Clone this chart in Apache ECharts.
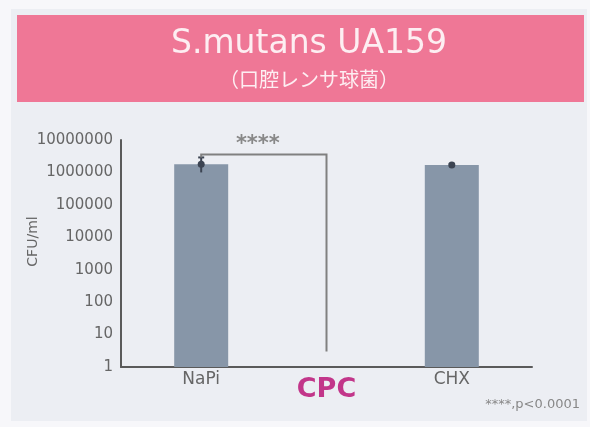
<!DOCTYPE html>
<html>
<head>
<meta charset="utf-8">
<script src="https://cdn.jsdelivr.net/npm/echarts@6/dist/echarts.min.js"></script>
<style>
  html, body { margin: 0; padding: 0; background: #f7f7fa; }
  #chart { width: 590px; height: 427px; }
</style>
</head>
<body>
<div id="chart"></div>
<script>
// 群（x 位置と名前）
const groupPos = [1, 2, 3];
const groupNames = ['NaPi', 'CPC', 'CHX'];
// 平均値 CFU/ml（CPC は検出限界以下）
const meanValues = [1.8e6, null, 1.7e6];
// エラーバー（下限・上限）
const errLow = [1.0e6, null, 1.55e6];
const errHigh = [2.9e6, null, 1.85e6];
// 有意差ブラケット
const bracketX = [1, 2];
const bracketTop = 3.6e6;
const bracketEnds = [2.9e6, 3];
const bracketMark = '****';
// y 軸目盛
const yTicks = [1, 10, 100, 1000, 10000, 100000, 1000000, 10000000];

const chart = echarts.init(document.getElementById('chart'));

const barData = [];
const errData = [];
for (let i = 0; i < groupPos.length; i++) {
  if (meanValues[i] != null) {
    barData.push([groupPos[i], meanValues[i]]);
    errData.push([groupPos[i], errLow[i], errHigh[i], meanValues[i]]);
  }
}

const option = {
  backgroundColor: '#f7f7fa',
  animation: false,
  graphic: [
    { type: 'rect', z: -10, shape: { x: 11, y: 9, width: 576, height: 412 },
      style: { fill: '#eceef3' } },
    { type: 'rect', z: -5, shape: { x: 17, y: 15, width: 567, height: 87 },
      style: { fill: '#ef7796' } },
    { type: 'text', x: 580, y: 405,
      style: { text: bracketMark + ',p<0.0001', fontSize: 13, fill: '#888',
        align: 'right', verticalAlign: 'middle', fontFamily: '"DejaVu Sans", sans-serif' } }
  ],
  title: {
    text: 'S.mutans UA159',
    subtext: '（口腔レンサ球菌）',
    left: 304,
    textAlign: 'center',
    top: 23,
    itemGap: 8,
    textStyle: { color: '#fdeef2', fontSize: 33, fontWeight: 'normal',
      fontFamily: '"DejaVu Sans", sans-serif' },
    subtextStyle: { color: '#fdeef2', fontSize: 20,
      fontFamily: '"Noto Sans CJK JP", sans-serif' }
  },
  grid: { left: 121, right: 58, top: 140, bottom: 60 },
  xAxis: {
    type: 'value',
    min: 0.36,
    max: 3.64,
    splitLine: { show: false },
    axisLine: { show: true, lineStyle: { color: '#5a5a5a', width: 2 } },
    axisTick: { show: false },
    axisLabel: {
      customValues: groupPos,
      margin: 4,
      formatter: function (v) {
        const i = groupPos.indexOf(v);
        if (i < 0) return '';
        return groupNames[i] === 'CPC' ? '{cpc|' + groupNames[i] + '}' : '{n|' + groupNames[i] + '}';
      },
      rich: {
        n: { fontSize: 17, color: '#666', fontFamily: '"DejaVu Sans", sans-serif' },
        cpc: { fontSize: 27, color: '#c2368a', fontWeight: 'bold',
          fontFamily: '"DejaVu Sans", sans-serif', padding: [5, 0, 0, 0] }
      }
    }
  },
  yAxis: {
    type: 'log',
    logBase: 10,
    min: 1,
    max: 1e7,
    name: 'CFU/ml',
    nameLocation: 'middle',
    nameGap: 81,
    nameMoveOverlap: false,
    nameTextStyle: { fontSize: 14, color: '#666', padding: [0, 0, 0, 24],
      fontFamily: '"DejaVu Sans", sans-serif' },
    splitLine: { show: false },
    axisLine: { show: true, lineStyle: { color: '#5a5a5a', width: 2 } },
    axisTick: { show: false },
    axisLabel: {
      customValues: yTicks,
      fontSize: 15,
      color: '#666',
      margin: 8,
      fontFamily: '"DejaVu Sans", sans-serif',
      formatter: function (v) { return String(Math.round(v)); }
    }
  },
  series: [
    {
      type: 'bar',
      data: barData,
      barWidth: 54,
      itemStyle: { color: '#8796a8' },
      z: 2
    },
    {
      type: 'custom',
      data: errData,
      z: 5,
      renderItem: function (params, api) {
        const x = api.value(0);
        const lo = api.coord([x, api.value(1)]);
        const hi = api.coord([x, api.value(2)]);
        const m = api.coord([x, api.value(3)]);
        const style = { stroke: '#3c4452', lineWidth: 2 };
        return {
          type: 'group',
          children: [
            { type: 'line', shape: { x1: lo[0], y1: lo[1], x2: hi[0], y2: hi[1] }, style: style },
            { type: 'line', shape: { x1: hi[0] - 3, y1: hi[1], x2: hi[0] + 3, y2: hi[1] }, style: style },
            { type: 'circle', shape: { cx: m[0], cy: m[1], r: 3.5 }, style: { fill: '#3c4452' } }
          ]
        };
      }
    },
    {
      type: 'custom',
      data: [[bracketX[0], bracketX[1], bracketTop, bracketEnds[0], bracketEnds[1]]],
      z: 6,
      renderItem: function (params, api) {
        const a = api.coord([api.value(0), api.value(2)]);
        const b = api.coord([api.value(1), api.value(2)]);
        const aEnd = api.coord([api.value(0), api.value(3)]);
        const bEnd = api.coord([api.value(1), api.value(4)]);
        return {
          type: 'group',
          children: [
            { type: 'polyline',
              shape: { points: [[aEnd[0], aEnd[1]], [a[0], a[1]], [b[0], b[1]], [bEnd[0], bEnd[1]]] },
              style: { stroke: '#808080', lineWidth: 2, fill: null } },
            { type: 'text',
              style: { text: bracketMark, x: (a[0] + b[0]) / 2 - 6, y: a[1] + 1,
                align: 'center', verticalAlign: 'bottom', fontSize: 21, fontWeight: 'bold',
                fill: '#888', fontFamily: '"DejaVu Sans", sans-serif' } }
          ]
        };
      }
    }
  ]
};

chart.setOption(option);
</script>
</body>
</html>
